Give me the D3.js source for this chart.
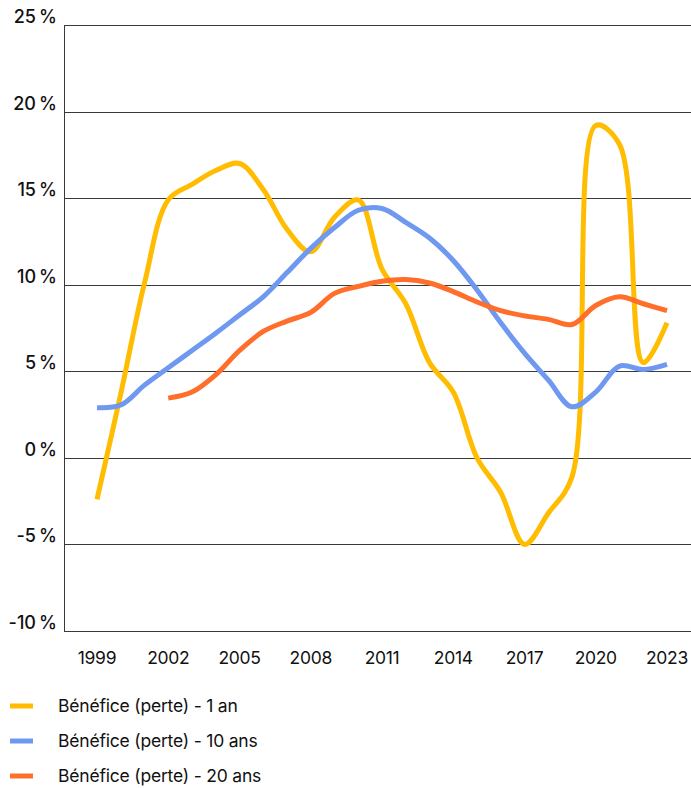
<!DOCTYPE html>
<html>
<head>
<meta charset="utf-8">
<script src="https://cdn.jsdelivr.net/npm/d3@7"></script>
<style>
  html, body { margin: 0; padding: 0; background: #fff; }
  svg { display: block; font-family: Inter, "Noto Sans", sans-serif; }
</style>
</head>
<body>
<svg id="chart" width="691" height="788"></svg>
<script>
// Annual returns, 1999–2023 (null = no data yet for that horizon)
const years = d3.range(1999, 2024);
const oneYear = [-2.4, 3.7, 10.1, 14.9, 15.8, 16.6, 17.0, 15.5, 13.2, 11.9, 13.9, 14.9, 10.9, 8.9, 5.5, 3.8, 0.0, -2.0, -5.0, -3.2, -1.1, 19.2, 18.1, 5.5, 7.8];
const tenYears = [2.9, 3.05, 4.2, 5.2, 6.2, 7.2, 8.25, 9.3, 10.7, 12.1, 13.3, 14.3, 14.4, 13.6, 12.7, 11.4, 9.7, 7.8, 6.05, 4.5, 2.95, 3.8, 5.3, 5.1, 5.4];
const twentyYears = [null, null, null, 3.45, 3.8, 4.8, 6.2, 7.3, 7.9, 8.4, 9.5, 9.9, 10.2, 10.3, 10.1, 9.6, 9.0, 8.5, 8.2, 8.0, 7.7, 8.8, 9.3, 8.9, 8.5];
const yTicks = [-10, -5, 0, 5, 10, 15, 20, 25];
const xTicks = [1999, 2002, 2005, 2008, 2011, 2014, 2017, 2020, 2023];
const seriesNames = ["Bénéfice (perte) - 1 an", "Bénéfice (perte) - 10 ans", "Bénéfice (perte) - 20 ans"];
const seriesColors = ["#FFBC00", "#6F98F1", "#FF6E2B"];

const svg = d3.select("#chart");
const W = 691;
const plotLeft = 64;

const x = d3.scaleLinear().domain([1999, 2023]).range([97, 667]);
const y = d3.scaleLinear().domain([-10, 25]).range([631, 25]);

// Horizontal gridlines
svg.append("g")
  .selectAll("line")
  .data(yTicks)
  .join("line")
  .attr("x1", plotLeft)
  .attr("x2", W)
  .attr("y1", d => Math.round(y(d)) + 0.5)
  .attr("y2", d => Math.round(y(d)) + 0.5)
  .attr("stroke", "#3a3a3a")
  .attr("stroke-width", 1);

// Left axis line
svg.append("line")
  .attr("x1", plotLeft + 0.5).attr("x2", plotLeft + 0.5)
  .attr("y1", Math.round(y(25)) + 0.5).attr("y2", Math.round(y(-10)) + 0.5)
  .attr("stroke", "#3a3a3a");

// Y tick labels
svg.append("g")
  .selectAll("text")
  .data(yTicks)
  .join("text")
  .attr("x", 57)
  .attr("y", d => y(d) - 2)
  .attr("text-anchor", "end")
  .attr("font-size", 18)
  .attr("font-weight", 500)
  .attr("letter-spacing", "-0.6")
  .attr("fill", "#111")
  .text(d => d + "\u202F%");

// X tick labels
svg.append("g")
  .selectAll("text")
  .data(xTicks)
  .join("text")
  .attr("x", d => x(d))
  .attr("y", 664)
  .attr("text-anchor", "middle")
  .attr("font-size", 17.5)
  .attr("letter-spacing", "-0.3")
  .attr("fill", "#111")
  .text(d => d);

// Series lines
const line = d3.line()
  .defined(d => d.v !== null)
  .x(d => x(d.yr))
  .y(d => y(d.v))
  .curve(d3.curveCatmullRom.alpha(0.5));

[oneYear, tenYears, twentyYears].forEach((vals, k) => {
  const pts = years.map((yr, i) => ({ yr, v: vals[i] }));
  svg.append("path")
    .datum(pts)
    .attr("fill", "none")
    .attr("stroke", seriesColors[k])
    .attr("stroke-width", 5)
    .attr("d", line);
});

// Legend
const legend = svg.append("g");
seriesNames.forEach((name, k) => {
  const ly = 706 + k * 35;
  legend.append("line")
    .attr("x1", 10).attr("x2", 33)
    .attr("y1", ly).attr("y2", ly)
    .attr("stroke", seriesColors[k])
    .attr("stroke-width", 5);
  legend.append("text")
    .attr("x", 58)
    .attr("y", ly + 6)
    .attr("font-size", 17.5)
    .attr("letter-spacing", "-0.2")
    .attr("fill", "#111")
    .text(name);
});
</script>
</body>
</html>
